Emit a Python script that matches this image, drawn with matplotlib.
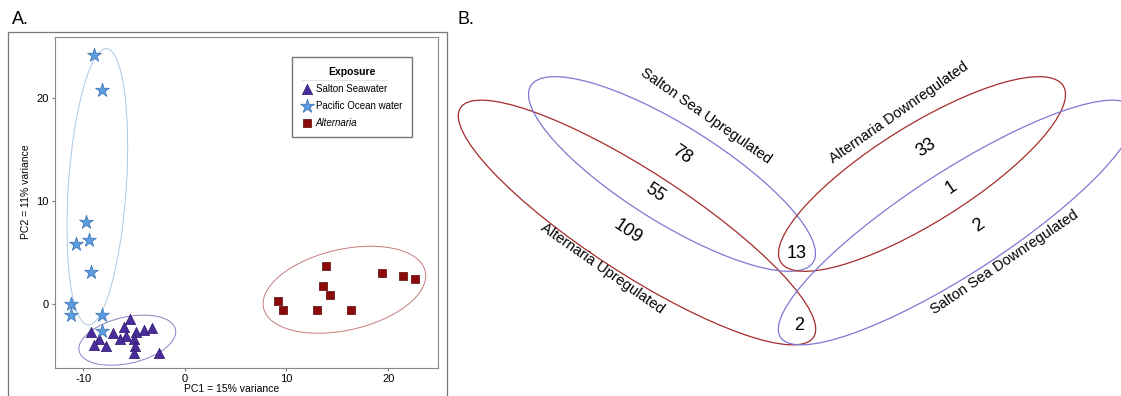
import matplotlib
matplotlib.use("Agg")
import matplotlib.pyplot as plt
from matplotlib.patches import Ellipse, Rectangle

plt.rcParams['font.family'] = ['Liberation Sans', 'DejaVu Sans']
plt.rcParams['axes.unicode_minus'] = False

# ---- Panel A data (PCA scores) ----
salton_x = [-5.4, -9.2, -7.1, -6.0, -4.8, -4.0, -3.2, -8.4, -6.4, -5.8, -5.0, -8.9, -7.7, -4.9, -5.0, -2.5]
salton_y = [-1.4, -2.7, -2.8, -2.2, -2.7, -2.5, -2.3, -3.4, -3.4, -3.1, -3.4, -4.0, -4.1, -4.1, -4.7, -4.7]
pacific_x = [-8.9, -8.1, -9.7, -10.7, -9.45, -9.2, -11.2, -11.2, -8.1, -8.1]
pacific_y = [24.2, 20.8, 8.0, 5.8, 6.2, 3.1, 0.0, -1.1, -1.1, -2.6]
altern_x = [9.15, 9.65, 13.9, 13.6, 14.3, 13.0, 16.3, 19.4, 21.5, 22.6]
altern_y = [0.3, -0.6, 3.7, 1.8, 0.9, -0.6, -0.6, 3.0, 2.7, 2.4]
group_names = ['Salton Seawater', 'Pacific Ocean water', 'Alternaria']

# group ellipses: centre x, centre y, width, height, angle
group_ellipses = [(-5.65, -3.5, 9.7, 4.5, 12.5),
                  (-8.6, 11.4, 5.7, 26.9, -3.9),
                  (15.7, 1.4, 16.3, 7.85, 12.6)]
ellipse_colors = ['#8a80c4', '#a9c8e6', '#c77c7c']

# ---- Panel B data (Venn diagram, pixel space) ----
set_names = ['Alternaria Upregulated', 'Salton Sea Upregulated',
             'Alternaria Downregulated', 'Salton Sea Downregulated']
set_colors = ['#a52c2c', '#7b79d2', '#a52c2c', '#7b79d2']
# left two sets, the right two are their mirror images
set_shapes = [(637, 222.5, 421, 102, 33), (672, 174, 333, 97, 32)]
mirror_x = 797
set_label_pos = [(602, 268, -35), (706, 116, -35), (899, 113, 35), (1005, 262, 34)]

region_counts = ['109', '55', '78', '13', '2', '33', '1', '2']
region_pos = [(628, 232, -34), (655, 193, -34), (682, 155, -34), (797, 254, 0),
              (799, 325, 0), (926, 148, 34), (951, 187, 34), (979, 225, 34)]


fig = plt.figure(figsize=(11.21, 3.96), dpi=100)

# ---------------- Panel A ----------------
ax = fig.add_axes([0.049, 0.0707, 0.3417, 0.836])

# Group ellipses
for (cx, cy, w, h, a), col in zip(group_ellipses, ellipse_colors):
    ax.add_patch(Ellipse((cx, cy), w, h, angle=a, fill=False, ec=col, lw=0.7))

# Points
ax.scatter(salton_x, salton_y, marker='^', s=55, c='#4a2c9a', edgecolors='#2e1a6e', lw=0.5,
           label=group_names[0], zorder=3)
ax.scatter(pacific_x, pacific_y, marker='*', s=110, c='#5b9de0', edgecolors='#3a6fb0', lw=0.5,
           label=group_names[1], zorder=3)
ax.scatter(altern_x, altern_y, marker='s', s=36, c='#8b0a0a', edgecolors='#5a0505', lw=0.5,
           label=group_names[2], zorder=3)

# Axes
ax.set_xlim(-12.77, 24.9)
ax.set_ylim(-6.2, 25.95)
ax.set_xticks([-10, 0, 10, 20])
ax.set_yticks([0, 10, 20])
ax.tick_params(labelsize=8, length=2.5, color='#777777', pad=2)
ax.set_xlabel('PC1 = 15% variance', fontsize=7.5)
ax.xaxis.set_label_coords(0.461, -0.048)
ax.set_ylabel('PC2 = 11% variance', fontsize=7.5)
ax.yaxis.set_label_coords(-0.062, 0.534)
for sp in ax.spines.values():
    sp.set_color('#888888')

# Legend
leg = ax.legend(loc='upper left', bbox_to_anchor=(0.62, 0.938), borderaxespad=0, fontsize=7,
                title='Exposure', title_fontproperties={'weight': 'bold', 'size': 7.5},
                fancybox=False, edgecolor='#555555', labelspacing=0.7, handlelength=1.0,
                handletextpad=0.4, borderpad=1.0)
leg.get_texts()[2].set_style('italic')
ax.plot([0.644, 0.866], [0.871, 0.871], transform=ax.transAxes, color='#555555', lw=0.6)

# Outer frame of panel A
fig.patches.append(Rectangle((0.0074, -0.02), 0.3911, 0.9384, transform=fig.transFigure,
                             fill=False, ec='#777777', lw=0.9))

# Panel letters
fig.text(0.011, 0.952, 'A.', fontsize=13, va='center', ha='left')
fig.text(0.4085, 0.952, 'B.', fontsize=13, va='center', ha='left')

# ---------------- Panel B ----------------
vx = fig.add_axes([440/1121, 0, 681/1121, 1])
vx.set_xlim(440, 1121)
vx.set_ylim(396, 0)
vx.axis('off')

shapes = list(set_shapes) + [(2*mirror_x - cx, cy, w, h, -a) for cx, cy, w, h, a in set_shapes[::-1]]
for (cx, cy, w, h, a), col in zip(shapes, set_colors):
    vx.add_patch(Ellipse((cx, cy), w, h, angle=a, fill=False, ec=col, lw=0.9))

# Set labels
for name, (x, y, rot) in zip(set_names, set_label_pos):
    vx.text(x, y, name, fontsize=10.5, rotation=rot, rotation_mode='anchor',
            ha='center', va='center')

# Region counts
for cnt, (x, y, rot) in zip(region_counts, region_pos):
    vx.text(x, y, cnt, fontsize=13, rotation=rot, rotation_mode='anchor',
            ha='center', va='center')

fig.savefig('out.png', dpi=100)
